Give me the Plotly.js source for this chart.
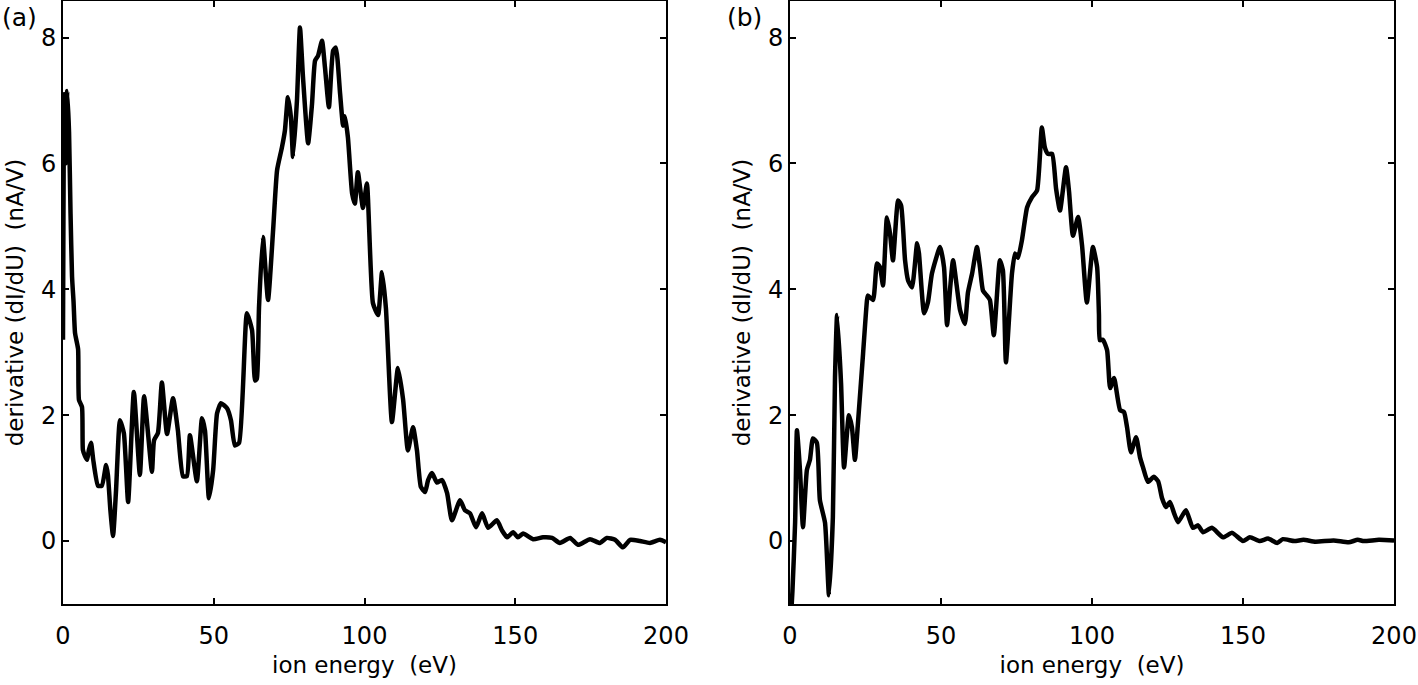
<!DOCTYPE html>
<html>
<head>
<meta charset="utf-8">
<script src="https://cdn.plot.ly/plotly-3.0.1.min.js"></script>
<style>
  body { margin: 0; background: #fff; }
  #plotArea { width: 1418px; height: 685px; }
</style>
</head>
<body>
<div id="plotArea"></div>
<script>
// panel (a) - ion energy (eV) vs derivative dI/dU (nA/V)
var energyA = [0, 0.4, 0.9, 1.4, 2.0, 2.5, 3.0, 3.5, 4.0, 5.0, 5.3, 6.3, 6.6, 7.3, 8.0, 8.6, 9.3, 10.0, 11.6, 12.9,
  14.3, 14.9, 15.7, 16.6, 17.6, 18.9, 20.2, 21.6, 23.5, 25.5, 26.9, 29.5, 30.2, 31.5, 32.8, 34.5, 36.5, 38.1, 39.8, 41.1,
  42.1, 44.4, 46.1, 47.1, 48.4, 49.8, 51.1, 52.4, 54.4, 55.7, 57.0, 58.4, 61.0, 62.7, 63.7, 64.3, 65.0, 66.3, 68.0, 69.7,
  71.0, 72.6, 73.6, 74.6, 75.6, 76.3, 77.6, 78.6, 79.6, 81.3, 82.6, 83.6, 84.6, 85.9, 86.9, 88.2, 89.6, 90.5, 91.9, 92.9,
  93.5, 94.5, 95.9, 96.8, 97.8, 99.5, 100.8, 102.8, 104.5, 105.8, 107.1, 109.1, 111.1, 112.8, 114.4, 116.1, 117.4, 118.7, 120.1, 121.1,
  122.4, 124.0, 125.7, 127.4, 129.0, 131.7, 133.3, 135.0, 137.0, 139.0, 141.0, 143.9, 145.6, 147.3, 149.3, 150.9, 152.6, 155.9, 159.2, 162.2,
  164.8, 168.2, 170.8, 174.8, 178.1, 180.4, 183.1, 185.7, 188.1, 191.4, 194.7, 198.0, 200];
var derivA = [3.2, 7.1, 6.0, 7.15, 6.5, 5.2, 4.2, 3.8, 3.3, 3.05, 2.24, 2.13, 1.45, 1.35, 1.29, 1.45, 1.56, 1.3, 0.88, 0.88,
  1.21, 1.05, 0.5, 0.08, 0.81, 1.92, 1.71, 0.62, 2.37, 1.05, 2.3, 1.1, 1.6, 1.72, 2.52, 1.7, 2.27, 1.76, 1.03, 1.03,
  1.68, 0.95, 1.95, 1.75, 0.68, 1.13, 2.03, 2.19, 2.11, 1.92, 1.52, 1.56, 3.62, 3.35, 2.55, 2.58, 3.7, 4.83, 3.83, 4.95,
  5.89, 6.25, 6.52, 7.05, 6.73, 6.10, 7.0, 8.16, 7.37, 6.32, 6.95, 7.63, 7.71, 7.95, 7.52, 6.89, 7.79, 7.84, 7.11, 6.6,
  6.75, 6.41, 5.52, 5.36, 5.86, 5.29, 5.68, 3.78, 3.59, 4.27, 3.7, 1.89, 2.75, 2.25, 1.44, 1.81, 1.44, 0.86, 0.78, 0.97,
  1.08, 0.93, 0.97, 0.76, 0.33, 0.65, 0.49, 0.44, 0.22, 0.44, 0.21, 0.33, 0.17, 0.06, 0.14, 0.06, 0.12, 0.03, 0.06, 0.05,
  -0.03, 0.05, -0.06, 0.03, -0.03, 0.05, 0.02, -0.1, 0.02, 0.0, -0.03, 0.02, -0.02];

// panel (b)
var energyB = [0, 0.8, 1.7, 2.3, 3.3, 4.3, 5.6, 6.6, 7.6, 8.9, 9.9, 11.6, 12.9, 14.2, 14.9, 15.6, 16.9, 17.9, 19.5, 20.5,
  21.5, 22.5, 24.2, 25.5, 25.8, 27.5, 28.8, 29.8, 30.8, 32.1, 33.1, 34.1, 35.8, 36.8, 38.1, 39.1, 40.4, 42.1, 42.7, 44.4,
  45.7, 47.0, 49.7, 51.0, 52.0, 53.0, 54.0, 56.3, 57.9, 58.9, 60.3, 61.9, 62.9, 63.9, 65.2, 66.2, 67.5, 69.5, 70.5, 71.5,
  73.5, 74.5, 75.5, 76.8, 78.5, 80.1, 81.8, 83.4, 84.4, 85.4, 86.8, 88.1, 89.4, 91.4, 92.4, 93.7, 95.4, 96.7, 98.3, 100.3,
  101.7, 102.3, 102.6, 103.6, 105.0, 106.0, 107.3, 109.3, 110.6, 111.6, 112.9, 114.6, 115.9, 116.9, 118.5, 120.5, 121.9, 123.2, 124.5, 125.8,
  127.2, 128.5, 131.1, 133.4, 135.1, 136.8, 139.7, 143.4, 146.4, 150.0, 152.3, 155.6, 158.3, 161.3, 163.2, 167, 170, 174, 180, 185, 188, 190, 195, 200];
var derivB = [-1.5, -0.8, 0.3, 1.76, 1.13, 0.22, 1.13, 1.29, 1.63, 1.56, 0.65, 0.29, -0.86, 0.38, 2.6, 3.59, 2.51, 1.17, 2.0, 1.81,
  1.29, 1.87, 2.98, 3.83, 3.9, 3.83, 4.41, 4.35, 4.06, 5.14, 4.89, 4.46, 5.41, 5.33, 4.46, 4.14, 4.03, 4.73, 4.57, 3.62,
  3.8, 4.25, 4.67, 4.35, 3.43, 4.0, 4.46, 3.67, 3.45, 3.94, 4.25, 4.67, 4.35, 3.98, 3.9, 3.83, 3.27, 4.46, 4.3, 2.84,
  4.25, 4.57, 4.5, 4.78, 5.3, 5.46, 5.57, 6.57, 6.25, 6.15, 6.15, 5.6, 5.25, 5.94, 5.55, 4.85, 5.15, 4.7, 3.79, 4.67,
  4.35, 3.6, 3.19, 3.2, 3.03, 2.43, 2.59, 2.08, 2.05, 1.81, 1.41, 1.65, 1.33, 1.17, 0.94, 1.02, 0.95, 0.68, 0.54, 0.62,
  0.44, 0.3, 0.49, 0.21, 0.25, 0.14, 0.21, 0.06, 0.13, 0.0, 0.06, 0.0, 0.04, -0.03, 0.03, 0.0, 0.02, -0.01, 0.01, -0.02, 0.02, 0.0, 0.02, 0.01];

var xTicks = [0, 50, 100, 150, 200];
var yTicks = [0, 2, 4, 6, 8];

var lineStyle = {color: '#000', width: 4.5, shape: 'spline', smoothing: 0.5};

var traceA = {x: energyA, y: derivA, mode: 'lines', line: lineStyle, xaxis: 'x', yaxis: 'y', hoverinfo: 'skip'};
var traceB = {x: energyB, y: derivB, mode: 'lines', line: lineStyle, xaxis: 'x2', yaxis: 'y2', hoverinfo: 'skip'};

function xAxis(dom, anchor) {
  return {
    domain: dom, anchor: anchor, range: [0, 200], tickvals: xTicks,
    showline: true, mirror: 'ticks', linecolor: '#000', linewidth: 2,
    ticks: 'inside', ticklen: 6, tickwidth: 2, tickcolor: '#000',
    showgrid: false, zeroline: false, ticklabelstandoff: 9,
    tickfont: {size: 24, color: '#000'},
    title: {text: 'ion energy  (eV)', font: {size: 23, color: '#000'}, standoff: 8}
  };
}
function yAxis(anchor) {
  return {
    anchor: anchor, range: [-1, 8.58], tickvals: yTicks, domain: [0, 1],
    showline: true, mirror: 'ticks', linecolor: '#000', linewidth: 2,
    ticks: 'inside', ticklen: 6, tickwidth: 2, tickcolor: '#000',
    showgrid: false, zeroline: false,
    tickfont: {size: 24, color: '#000'},
    title: {text: 'derivative (dI/dU)  (nA/V)', font: {size: 23, color: '#000'}, standoff: 11}
  };
}

var layout = {
  width: 1418, height: 685,
  margin: {l: 0, r: 0, t: 1, b: 81},
  paper_bgcolor: '#fff', plot_bgcolor: '#fff',
  font: {family: 'DejaVu Sans, sans-serif', color: '#000'},
  showlegend: false,
  xaxis: xAxis([63 / 1418, 666 / 1418], 'y'),
  yaxis: yAxis('x'),
  xaxis2: xAxis([790 / 1418, 1394 / 1418], 'y2'),
  yaxis2: yAxis('x2'),
  annotations: [
    {text: '(a)', xref: 'paper', yref: 'paper', x: 0, y: 1.0, xanchor: 'left', yanchor: 'top', showarrow: false, font: {size: 25}},
    {text: '(b)', xref: 'paper', yref: 'paper', x: 725 / 1418, y: 1.0, xanchor: 'left', yanchor: 'top', showarrow: false, font: {size: 25}}
  ]
};

Plotly.newPlot('plotArea', [traceA, traceB], layout, {staticPlot: true});
</script>
</body>
</html>
